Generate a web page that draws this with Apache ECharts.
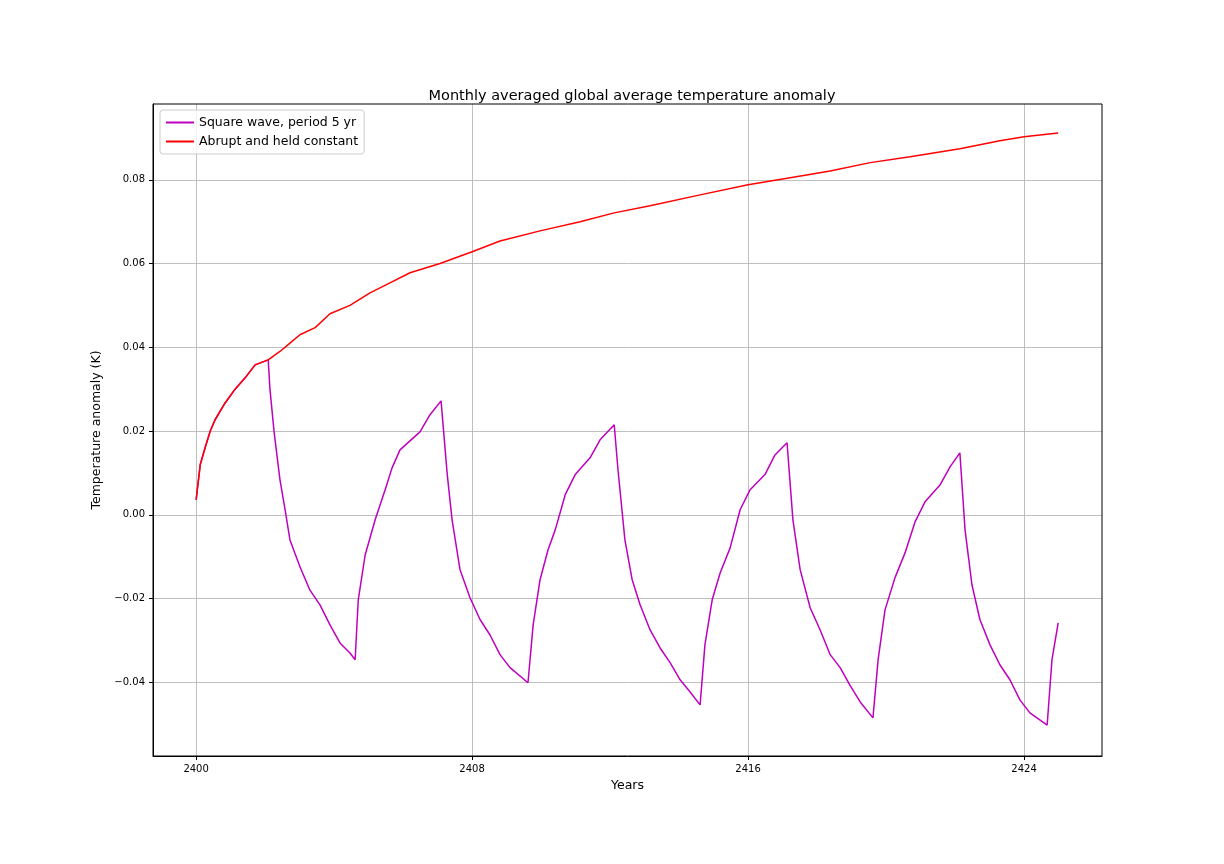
<!DOCTYPE html>
<html>
<head>
<meta charset="utf-8">
<script src="https://cdn.jsdelivr.net/npm/echarts@6/dist/echarts.min.js"></script>
<style>html,body{margin:0;background:#fff}#c{width:1224px;height:864px}</style>
</head>
<body>
<div id="c"></div>
<script>
// values
const abruptYears = [2400, 2400.12, 2400.26, 2400.41, 2400.55, 2400.84, 2401.13, 2401.42, 2401.71, 2402.09, 2402.43, 2402.72, 2403.01, 2403.45, 2403.88, 2404.46, 2405.04, 2405.62, 2406.20, 2407.07, 2408.00, 2408.81, 2409.97, 2411.13, 2412.12, 2413.16, 2414.61, 2416.00, 2417.22, 2418.38, 2419.54, 2420.70, 2422.14, 2423.30, 2424.00, 2424.99];
const abruptValues = [0.0036, 0.012, 0.016, 0.020, 0.0227, 0.0267, 0.030, 0.0327, 0.0358, 0.037, 0.039, 0.041, 0.043, 0.0447, 0.048, 0.050, 0.053, 0.0554, 0.0578, 0.060, 0.0628, 0.0654, 0.0678, 0.070, 0.0721, 0.0738, 0.0764, 0.0788, 0.0805, 0.0821, 0.0841, 0.0855, 0.0874, 0.0893, 0.0903, 0.0912];

const squareYears = [2400, 2400.12, 2400.26, 2400.41, 2400.55, 2400.84, 2401.13, 2401.42, 2401.71, 2402.09,
  2402.14, 2402.26, 2402.43, 2402.58, 2402.72, 2403.01, 2403.30, 2403.59, 2403.88, 2404.17, 2404.46, 2404.61,
  2404.70, 2404.90, 2405.19, 2405.48, 2405.68, 2405.91, 2406.49, 2406.78, 2407.10,
  2407.28, 2407.42, 2407.65, 2407.94, 2408.23, 2408.52, 2408.81, 2409.10, 2409.62,
  2409.77, 2409.97, 2410.20, 2410.41, 2410.70, 2410.99, 2411.42, 2411.71, 2412.12,
  2412.23, 2412.43, 2412.64, 2412.87, 2413.16, 2413.45, 2413.74, 2414.03, 2414.32, 2414.61,
  2414.75, 2414.96, 2415.19, 2415.48, 2415.77, 2416.06, 2416.49, 2416.78, 2417.13,
  2417.30, 2417.51, 2417.80, 2418.09, 2418.38, 2418.67, 2418.96, 2419.25, 2419.62,
  2419.77, 2419.97, 2420.26, 2420.55, 2420.84, 2421.13, 2421.57, 2421.86, 2422.14,
  2422.29, 2422.49, 2422.72, 2423.01, 2423.30, 2423.59, 2423.88, 2424.17, 2424.67,
  2424.81, 2424.99];
const squareValues = [0.0036, 0.012, 0.016, 0.020, 0.0227, 0.0267, 0.030, 0.0327, 0.0358, 0.037,
  0.030, 0.0198, 0.0084, 0.0012, -0.006, -0.0124, -0.018, -0.0215, -0.0263, -0.0306, -0.033, -0.0346,
  -0.0203, -0.0096, -0.0012, 0.006, 0.0112, 0.0155, 0.0198, 0.0239, 0.0272,
  0.0096, -0.0012, -0.0131, -0.0198, -0.025, -0.0287, -0.0334, -0.0365, -0.0401,
  -0.0263, -0.0155, -0.0084, -0.0036, 0.0048, 0.0096, 0.0136, 0.0179, 0.0215,
  0.0107, -0.006, -0.0155, -0.0215, -0.0275, -0.0318, -0.0353, -0.0394, -0.0423, -0.0454,
  -0.031, -0.0203, -0.0139, -0.0079, 0.0012, 0.006, 0.0096, 0.0143, 0.0172,
  -0.0012, -0.0131, -0.0222, -0.0275, -0.0334, -0.0365, -0.0408, -0.0447, -0.0485,
  -0.0346, -0.0227, -0.015, -0.0091, -0.0017, 0.0031, 0.0072, 0.0115, 0.0148,
  -0.0036, -0.0167, -0.025, -0.031, -0.0358, -0.0394, -0.0442, -0.0473, -0.0502,
  -0.0346, -0.0258];

const xTicks = [2400, 2408, 2416, 2424];
const yTicks = [-0.04, -0.02, 0, 0.02, 0.04, 0.06, 0.08];

const font = 'DejaVu Sans';
const chart = echarts.init(document.getElementById('c'));
const gridLine = { show: true, lineStyle: { color: '#b0b0b0', width: 0.8 } };
const zip = (xs, ys) => xs.map((x, i) => [x, ys[i]]);

chart.setOption({
  animation: false,
  textStyle: { fontFamily: font },
  title: {
    text: 'Monthly averaged global average temperature anomaly',
    left: 627, top: 84, textAlign: 'center',
    textStyle: { fontSize: 14.5, fontWeight: 'normal', color: '#000', fontFamily: font }
  },
  legend: {
    left: 160, top: 110, orient: 'vertical', itemGap: 6, itemWidth: 28, itemHeight: 2,
    padding: [6, 6, 6, 6], borderColor: '#ccc', borderWidth: 1, borderRadius: 3,
    backgroundColor: 'rgba(255,255,255,0.8)',
    icon: 'rect',
    textStyle: { fontSize: 12.5, color: '#000', fontFamily: font },
    data: ['Square wave, period 5 yr', 'Abrupt and held constant']
  },
  grid: { left: 153, right: 122, top: 104, bottom: 108 },
  xAxis: {
    type: 'value', min: 2398.75, max: 2426.26,
    name: 'Years', nameLocation: 'middle', nameGap: 22,
    nameTextStyle: { fontSize: 12.5, color: '#000' },
    axisLine: { onZero: false, lineStyle: { color: '#000' } },
    axisTick: { customValues: xTicks, length: 4, lineStyle: { color: '#000' } },
    axisLabel: { customValues: xTicks, fontSize: 10, color: '#000', formatter: (v) => String(v) },
    splitLine: gridLine
  },
  yAxis: {
    type: 'value', min: -0.0576, max: 0.0981,
    name: 'Temperature anomaly (K)', nameLocation: 'middle', nameGap: 44,
    nameTextStyle: { fontSize: 12.5, color: '#000' },
    axisLine: { show: true, lineStyle: { color: '#000' } },
    axisTick: { show: true, customValues: yTicks, length: 4, lineStyle: { color: '#000' } },
    axisLabel: {
      customValues: yTicks, fontSize: 10, color: '#000',
      formatter: (v) => v.toFixed(2).replace('-', '\u2212')
    },
    splitLine: gridLine
  },
  graphic: [{
    type: 'rect', shape: { x: 153, y: 104, width: 949, height: 652 }, silent: true, z: 100,
    style: { fill: 'none', stroke: '#000', lineWidth: 1 }
  }],
  series: [
    {
      name: 'Square wave, period 5 yr', type: 'line', showSymbol: false,
      data: zip(squareYears, squareValues),
      lineStyle: { color: '#bf00bf', width: 1.5 }, itemStyle: { color: '#bf00bf' }
    },
    {
      name: 'Abrupt and held constant', type: 'line', showSymbol: false,
      data: zip(abruptYears, abruptValues),
      lineStyle: { color: '#ff0000', width: 1.5 }, itemStyle: { color: '#ff0000' }
    }
  ]
});
</script>
</body>
</html>
